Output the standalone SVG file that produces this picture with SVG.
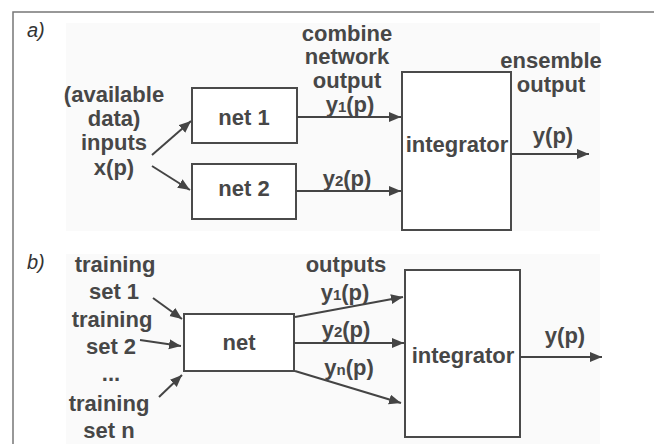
<svg xmlns="http://www.w3.org/2000/svg" width="654" height="444" viewBox="0 0 654 444">
<defs>
<marker id="arr" markerUnits="userSpaceOnUse" markerWidth="14" markerHeight="12" refX="12" refY="5" orient="auto">
<path d="M0,0 L12,5 L0,10 z" fill="#444"/>
</marker>
<style>
.t{font-family:"Liberation Sans",Arial,sans-serif;font-weight:bold;font-size:22px;fill:#474747;text-anchor:middle}
.lbl{font-family:"Liberation Sans",Arial,sans-serif;font-style:italic;font-size:20px;fill:#333}
.box{fill:#fff;stroke:#4a4a4a;stroke-width:2}
.c{stroke:#444;stroke-width:2;fill:none;marker-end:url(#arr)}
.s{font-size:15px}
</style>
</defs>
<rect x="0" y="0" width="654" height="444" fill="#fff"/>
<rect x="66" y="23" width="534" height="208" fill="#fafafa"/>
<rect x="66" y="254" width="534" height="190" fill="#fafafa"/>
<path d="M13,444 L13,12 L654,12" fill="none" stroke="#777" stroke-width="1.5"/>
<text class="lbl" x="27" y="37">a)</text>
<text class="lbl" x="27" y="269">b)</text>

<g id="inputs-a">
<text class="t" x="114" y="102">(available</text>
<text class="t" x="114" y="126">data)</text>
<text class="t" x="114" y="150">inputs</text>
<text class="t" x="114" y="175">x(p)</text>
</g>
<g id="net1"><rect class="box" x="192" y="88" width="105" height="55"/><text class="t" x="244" y="125">net 1</text></g>
<g id="net2"><rect class="box" x="192" y="164" width="104" height="55"/><text class="t" x="244" y="196">net 2</text></g>
<g id="integrator-a"><rect class="box" x="402" y="72" width="109" height="158"/><text class="t" x="457" y="152">integrator</text></g>
<g id="labels-a">
<text class="t" x="347" y="41">combine</text>
<text class="t" x="347" y="64">network</text>
<text class="t" x="347" y="88">output</text>
<text class="t" x="350" y="112">y<tspan class="s">1</tspan>(p)</text>
<text class="t" x="347" y="186">y<tspan class="s">2</tspan>(p)</text>
<text class="t" x="551" y="68">ensemble</text>
<text class="t" x="551" y="92">output</text>
<text class="t" x="553" y="143">y(p)</text>
</g>

<g id="inputs-b">
<text class="t" x="115" y="272">training</text>
<text class="t" x="114" y="299">set 1</text>
<text class="t" x="112" y="327">training</text>
<text class="t" x="111" y="354">set 2</text>
<text class="t" x="111" y="381">...</text>
<text class="t" x="109" y="411">training</text>
<text class="t" x="109" y="438">set n</text>
</g>
<g id="net"><rect class="box" x="184" y="314" width="110" height="57"/><text class="t" x="239" y="350">net</text></g>
<g id="integrator-b"><rect class="box" x="405" y="270" width="115" height="167"/><text class="t" x="463" y="363">integrator</text></g>
<g id="labels-b">
<text class="t" x="346" y="272">outputs</text>
<text class="t" x="345" y="300">y<tspan class="s">1</tspan>(p)</text>
<text class="t" x="346" y="337">y<tspan class="s">2</tspan>(p)</text>
<text class="t" x="349" y="375">y<tspan class="s">n</tspan>(p)</text>
<text class="t" x="565" y="343">y(p)</text>
</g>

<g id="connectors">
<line class="c" x1="152" y1="155" x2="191" y2="121"/>
<line class="c" x1="152" y1="166" x2="190" y2="190"/>
<line class="c" x1="297" y1="117" x2="401" y2="117"/>
<line class="c" x1="296" y1="191" x2="401" y2="191"/>
<line class="c" x1="511" y1="154" x2="589" y2="154"/>
<line class="c" x1="153" y1="298" x2="182" y2="319"/>
<line class="c" x1="140" y1="340" x2="181" y2="346"/>
<line class="c" x1="159" y1="397" x2="182" y2="375"/>
<line class="c" x1="295" y1="317" x2="403" y2="297"/>
<line class="c" x1="294" y1="343" x2="404" y2="343"/>
<line class="c" x1="295" y1="371" x2="401" y2="403"/>
<line class="c" x1="520" y1="357" x2="602" y2="357"/>
</g>
</svg>
